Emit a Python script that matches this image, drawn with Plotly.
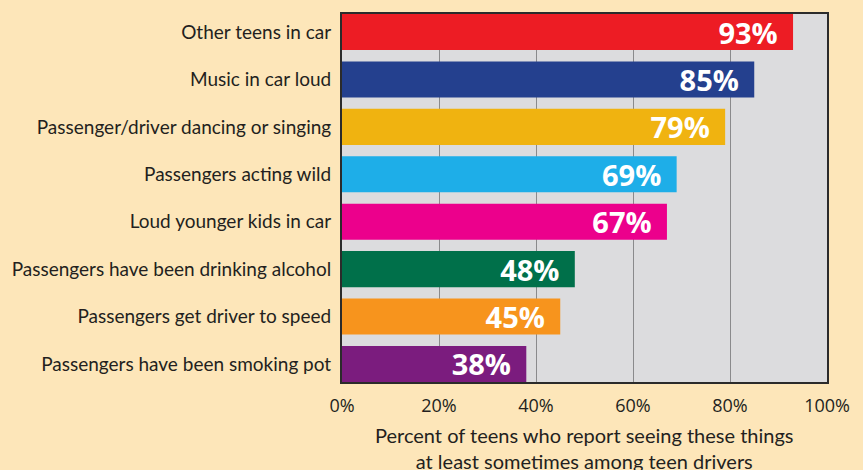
import plotly.graph_objects as go

categories = [
    "Other teens in car",
    "Music in car loud",
    "Passenger/driver dancing or singing",
    "Passengers acting wild",
    "Loud younger kids in car",
    "Passengers have been drinking alcohol",
    "Passengers get driver to speed",
    "Passengers have been smoking pot",
]
values = [93, 85, 79, 69, 67, 48, 45, 38]
labels = ["93%", "85%", "79%", "69%", "67%", "48%", "45%", "38%"]
bar_colors = ["#ed1c24", "#24408e", "#f0b310", "#1eaee8",
              "#ec008c", "#00704a", "#f7941d", "#7b1c7e"]
tick_vals = [0, 20, 40, 60, 80, 100]
tick_text = ["0%", "20%", "40%", "60%", "80%", "100%"]

fig = go.Figure(go.Bar(
    x=values,
    y=categories,
    orientation="h",
    width=0.76,
    marker=dict(color=bar_colors, line=dict(width=0)),
    text=[l + "\u00a0\u2009" for l in labels],
    textposition="inside",
    insidetextanchor="end",
    textangle=0,
    constraintext="none",
    textfont=dict(family="Open Sans", size=29, color="white", weight="bold"),
    hoverinfo="skip",
))

fig.update_layout(
    width=863, height=470,
    margin=dict(l=335, r=36, t=12, b=88),
    paper_bgcolor="#fde6b9",
    plot_bgcolor="#dcdcde",
    showlegend=False,
    uniformtext=dict(mode=False),
    font=dict(family="Lato", color="#231f20"),
)
fig.update_xaxes(
    range=[0, 100],
    tickvals=tick_vals,
    ticktext=tick_text,
    tickfont=dict(family="Open Sans", size=18, color="#231f20"),
    showgrid=True, gridcolor="#8a8a8c", gridwidth=1,
    showline=True, linecolor="#2b2b2b", linewidth=2, mirror=True,
    zeroline=False, ticks="", ticklabelstandoff=6,
    fixedrange=True,
)
fig.update_yaxes(
    categoryorder="array", categoryarray=categories,
    autorange=False, range=[7.38, -0.38],
    tickfont=dict(family="Lato", size=19, color="#231f20"),
    showgrid=False,
    showline=True, linecolor="#2b2b2b", linewidth=2, mirror=True,
    ticks="", ticklabelstandoff=5,
    fixedrange=True,
)
fig.add_annotation(
    text="Percent of teens who report seeing these things<br>at least sometimes among teen drivers",
    xref="paper", yref="paper", x=0.5, y=0, yshift=-39,
    xanchor="center", yanchor="top", showarrow=False,
    font=dict(family="Lato", size=20, color="#231f20"),
    align="center",
)
fig.write_html(
    "out.html",
    config={"displayModeBar": False},
    post_script="document.body.style.margin='0';document.body.style.background='#fde6b9';",
)
